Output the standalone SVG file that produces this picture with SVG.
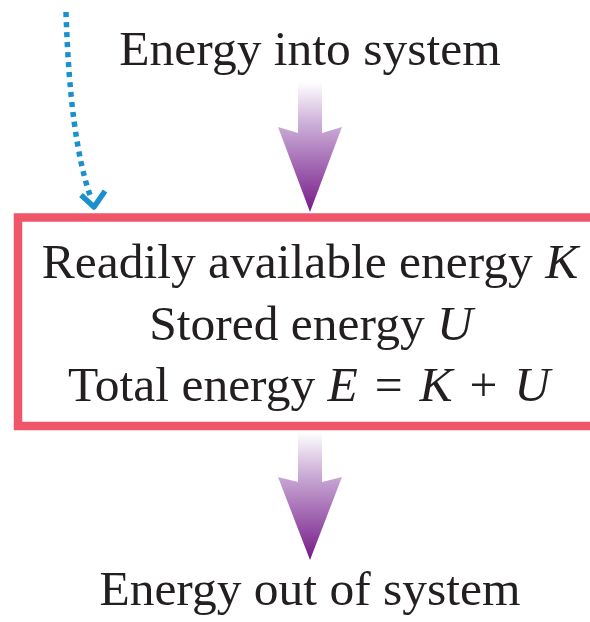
<svg xmlns="http://www.w3.org/2000/svg" width="590" height="622" viewBox="0 0 590 622">
<style>
.t{font-family:"Liberation Serif","Times New Roman",serif;font-size:49.5px;fill:#231f20;text-anchor:middle}
.i{font-style:italic}
</style>
<defs>
<linearGradient id="g1" gradientUnits="userSpaceOnUse" x1="0" y1="82" x2="0" y2="212">
<stop offset="0" stop-color="#ffffff"/>
<stop offset="0.35" stop-color="#c8a8d4"/>
<stop offset="1" stop-color="#751a88"/>
</linearGradient>
<linearGradient id="g2" gradientUnits="userSpaceOnUse" x1="0" y1="432" x2="0" y2="560">
<stop offset="0" stop-color="#ffffff"/>
<stop offset="0.35" stop-color="#c8a8d4"/>
<stop offset="1" stop-color="#751a88"/>
</linearGradient>
</defs>
<rect width="590" height="622" fill="#ffffff"/>
<g id="connectors">
<path d="M298,82 H322 V133 L342,127 L310,212 L278,127 L298,133 Z" fill="url(#g1)"/>
<path d="M298,432 H322 V482 L342,477 L310,560 L278,477 L298,482 Z" fill="url(#g2)"/>
<path d="M66,12 Q70,140 91,198" fill="none" stroke="#1a90cc" stroke-width="5.5" stroke-dasharray="5 5"/>
<polyline points="81,195 94,207 105,191" fill="none" stroke="#1a90cc" stroke-width="5.5" stroke-linejoin="round"/>
</g>
<g id="input"><text class="t" x="310" y="65">Energy into system</text></g>
<g id="system">
<rect x="18" y="217.5" width="600" height="208.5" fill="none" stroke="#f0566a" stroke-width="8.5"/>
<text class="t" x="310" y="278">Readily available energy <tspan class="i">K</tspan></text>
<text class="t" x="311" y="340">Stored energy <tspan class="i">U</tspan></text>
<text class="t" x="309" y="401">Total energy <tspan class="i">E</tspan> <tspan dx="4.5">=</tspan> <tspan dx="4.5" class="i">K</tspan> <tspan dx="4.5">+</tspan> <tspan dx="4.5" class="i">U</tspan></text>
</g>
<g id="output"><text class="t" x="310" y="605">Energy out of system</text></g>
</svg>
